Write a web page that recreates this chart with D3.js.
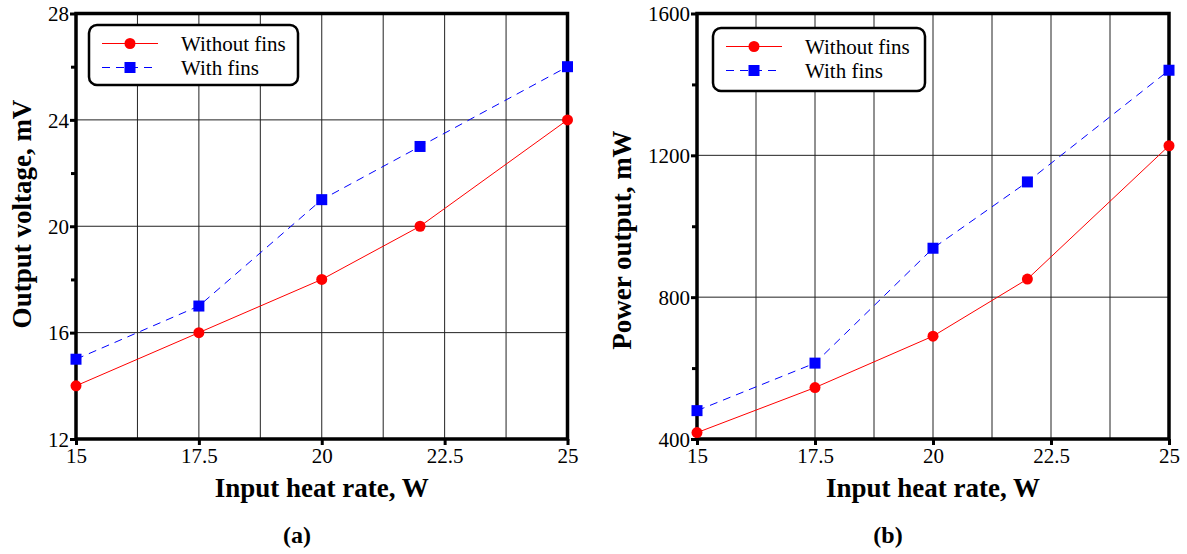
<!DOCTYPE html>
<html>
<head>
<meta charset="utf-8">
<script src="https://cdn.jsdelivr.net/npm/d3@7"></script>
<style>
  body { margin: 0; background: #fff; }
  svg, svg text { font-family: "Liberation Serif", "Times New Roman", serif; }
  .tick text { font-family: "Liberation Serif", serif; font-size: 21px; }
</style>
</head>
<body>
<div id="chart"></div>
<script>
// data
var heatRate = [15, 17.5, 20, 22, 25];
var voltNoFins = [14, 16, 18, 20, 24];
var voltFins = [15, 17, 21, 23, 26];
var powerNoFins = [418, 545, 690, 851, 1227];
var powerFins = [480, 614, 938, 1125, 1440];
var xTicks = [15, 17.5, 20, 22.5, 25];
var xGrid = [16.25, 17.5, 18.75, 20, 21.25, 22.5, 23.75];
var voltTicks = [12, 16, 20, 24, 28];
var voltMinor = [14, 18, 22, 26];
var powerTicks = [400, 800, 1200, 1600];
var powerMinor = [600, 1000, 1400];
var seriesNames = ["Without fins", "With fins"];

var width = 1187, height = 554;
var svg = d3.select("#chart").append("svg")
  .attr("width", width)
  .attr("height", height);

function drawPanel(opt) {
  var x = d3.scaleLinear().domain([15, 25]).range([opt.left, opt.right]);
  var y = d3.scaleLinear().domain(opt.yDomain).range([439, 13.5]);
  var g = svg.append("g");

  // grid
  g.selectAll(".vgrid").data(xGrid).enter().append("line")
    .attr("x1", d => x(d)).attr("x2", d => x(d))
    .attr("y1", y.range()[1]).attr("y2", y.range()[0])
    .attr("stroke", "#222").attr("stroke-width", 1);
  g.selectAll(".hgrid").data(opt.yTicks.slice(1, -1)).enter().append("line")
    .attr("x1", opt.left).attr("x2", opt.right)
    .attr("y1", d => y(d)).attr("y2", d => y(d))
    .attr("stroke", "#222").attr("stroke-width", 1);

  // axes
  var xAxis = d3.axisBottom(x).tickValues(xTicks).tickSize(6).tickPadding(3)
    .tickFormat(d3.format("~g"));
  var gx = g.append("g").attr("transform", "translate(0,439)").call(xAxis);
  var yAxis = d3.axisLeft(y).tickValues(opt.yTicks).tickSize(6).tickPadding(1)
    .tickFormat(d3.format("d"));
  var gy = g.append("g").attr("transform", "translate(" + opt.left + ",0)").call(yAxis);
  var gy2 = g.append("g").attr("transform", "translate(" + opt.left + ",0)")
    .call(d3.axisLeft(y).tickValues(opt.yMinor).tickSize(5).tickFormat(""));
  [gx, gy, gy2].forEach(function(a) {
    a.attr("font-family", "Liberation Serif, serif").attr("font-size", 21);
    a.select(".domain").remove();
    a.selectAll(".tick line").attr("stroke", "#000").attr("stroke-width", 3);
    a.selectAll(".tick text").attr("fill", "#000");
  });
  gy.selectAll(".tick text").attr("dy", "0.34em");

  // frame
  g.append("rect")
    .attr("x", opt.left).attr("y", y.range()[1])
    .attr("width", opt.right - opt.left).attr("height", y.range()[0] - y.range()[1])
    .attr("fill", "none").attr("stroke", "#000").attr("stroke-width", 3.5);

  var line = d3.line().x((d, i) => x(heatRate[i])).y(d => y(d));

  g.append("path").datum(opt.s1)
    .attr("d", line).attr("fill", "none")
    .attr("stroke", "#ff0000").attr("stroke-width", 1);
  g.append("path").datum(opt.s2)
    .attr("d", line).attr("fill", "none")
    .attr("stroke", "#0000ff").attr("stroke-width", 1)
    .attr("stroke-dasharray", "8,6");

  g.selectAll(".c").data(opt.s1).enter().append("circle")
    .attr("cx", (d, i) => x(heatRate[i])).attr("cy", d => y(d))
    .attr("r", 5.5).attr("fill", "#ff0000");
  g.selectAll(".s").data(opt.s2).enter().append("rect")
    .attr("x", (d, i) => x(heatRate[i]) - 5.5).attr("y", d => y(d) - 5.5)
    .attr("width", 11).attr("height", 11).attr("fill", "#0000ff");

  // legend
  var L = opt.legend;
  g.append("rect")
    .attr("x", L.x).attr("y", L.y).attr("width", L.w).attr("height", L.h)
    .attr("rx", 8).attr("ry", 8)
    .attr("fill", "#fff").attr("stroke", "#000").attr("stroke-width", 2.5);
  var ly = [L.y + 18.5, L.y + 42.5];
  g.append("line").attr("x1", L.x + 13).attr("x2", L.x + 69)
    .attr("y1", ly[0]).attr("y2", ly[0]).attr("stroke", "#ff0000").attr("stroke-width", 1);
  g.append("circle").attr("cx", L.x + 41).attr("cy", ly[0]).attr("r", 5.5).attr("fill", "#ff0000");
  g.append("line").attr("x1", L.x + 13).attr("x2", L.x + 69)
    .attr("y1", ly[1]).attr("y2", ly[1]).attr("stroke", "#0000ff").attr("stroke-width", 1)
    .attr("stroke-dasharray", "8,6").attr("stroke-dashoffset", 0);
  g.append("rect").attr("x", L.x + 35.5).attr("y", ly[1] - 5.5)
    .attr("width", 11).attr("height", 11).attr("fill", "#0000ff");
  seriesNames.forEach(function(n, i) {
    g.append("text").attr("x", L.x + 92).attr("y", ly[i]).attr("dy", "0.35em")
      .attr("font-size", 21).text(n);
  });

  // titles
  g.append("text")
    .attr("x", (opt.left + opt.right) / 2).attr("y", 497)
    .attr("text-anchor", "middle").attr("font-size", 27).attr("font-weight", "bold")
    .text("Input heat rate, W");
  g.append("text")
    .attr("transform", "translate(" + opt.titleX + "," + opt.titleY + ") rotate(-90)")
    .attr("text-anchor", "middle").attr("font-size", 27).attr("font-weight", "bold")
    .text(opt.yTitle);
  g.append("text")
    .attr("x", opt.labelX).attr("y", 543)
    .attr("text-anchor", "middle").attr("font-size", 24).attr("font-weight", "bold")
    .text(opt.label);
}

drawPanel({
  left: 76, right: 567.5,
  yDomain: [12, 28], yTicks: voltTicks, yMinor: voltMinor,
  s1: voltNoFins, s2: voltFins,
  legend: {x: 89, y: 25, w: 209, h: 60},
  titleX: 31, titleY: 214, yTitle: "Output voltage, mV", label: "(a)", labelX: 297
});

drawPanel({
  left: 697, right: 1169,
  yDomain: [400, 1600], yTicks: powerTicks, yMinor: powerMinor,
  s1: powerNoFins, s2: powerFins,
  legend: {x: 713, y: 28, w: 212, h: 63},
  titleX: 631, titleY: 240, yTitle: "Power output, mW", label: "(b)", labelX: 888
});
</script>
</body>
</html>
